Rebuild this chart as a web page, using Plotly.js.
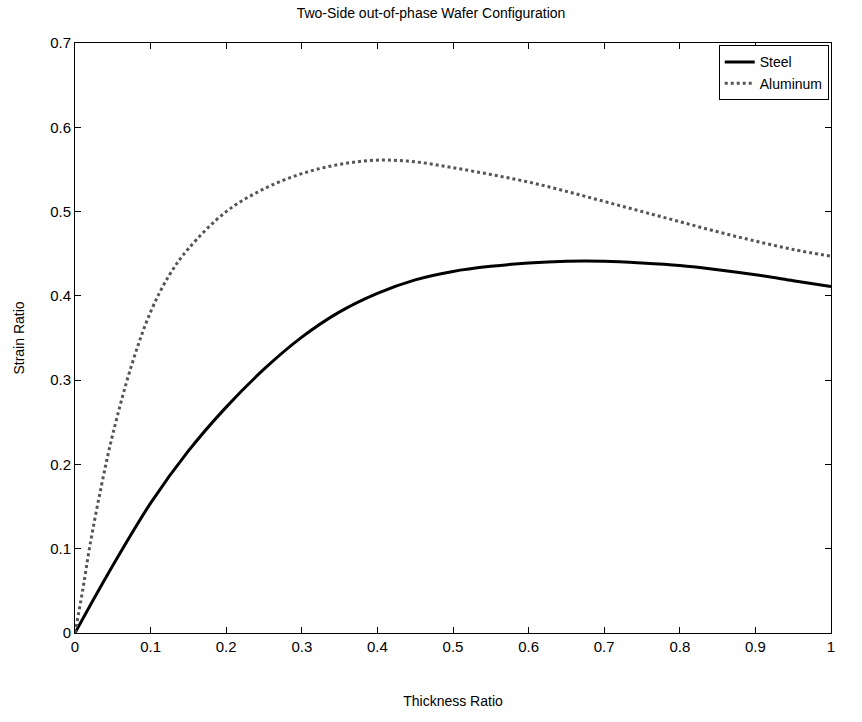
<!DOCTYPE html>
<html>
<head>
<meta charset="utf-8">
<script src="https://cdn.plot.ly/plotly-3.0.1.min.js"></script>
<style>html,body{margin:0;padding:0;background:#fff;}#chart{width:862px;height:722px;}</style>
</head>
<body>
<div id="chart"></div>
<script>
const steelX = [0, 0.05, 0.1, 0.15, 0.2, 0.25, 0.3, 0.35, 0.4, 0.45, 0.5, 0.55, 0.6, 0.65, 0.7, 0.75, 0.8, 0.85, 0.9, 0.95, 1.0];
const steelY = [0, 0.08, 0.154, 0.216, 0.268, 0.313, 0.351, 0.381, 0.403, 0.419, 0.429, 0.435, 0.439, 0.441, 0.441, 0.439, 0.436, 0.431, 0.425, 0.418, 0.411];
const aluX = [0, 0.01, 0.02, 0.035, 0.05, 0.075, 0.1, 0.125, 0.15, 0.2, 0.25, 0.3, 0.35, 0.4, 0.45, 0.5, 0.55, 0.6, 0.65, 0.7, 0.75, 0.8, 0.85, 0.9, 0.95, 1.0];
const aluY = [0, 0.05, 0.105, 0.175, 0.236, 0.318, 0.381, 0.425, 0.456, 0.500, 0.527, 0.545, 0.556, 0.561, 0.559, 0.552, 0.544, 0.535, 0.524, 0.512, 0.50, 0.488, 0.476, 0.465, 0.455, 0.447];
const xTicks = [0, 0.1, 0.2, 0.3, 0.4, 0.5, 0.6, 0.7, 0.8, 0.9, 1];
const yTicks = [0, 0.1, 0.2, 0.3, 0.4, 0.5, 0.6, 0.7];

const font = {family: 'Liberation Sans, Arial, sans-serif', size: 14, color: '#000'};
const tickFont = {family: 'Liberation Sans, Arial, sans-serif', size: 15, color: '#000'};
const axisCommon = {
  showgrid: false, zeroline: false, showline: true, linecolor: '#000', linewidth: 1,
  mirror: 'ticks', ticks: 'inside', ticklen: 6, tickcolor: '#000',
  tickfont: tickFont
};
const data = [
  {x: steelX, y: steelY, name: 'Steel', mode: 'lines',
   line: {color: '#000', width: 3, shape: 'spline'}},
  {x: aluX, y: aluY, name: 'Aluminum', mode: 'lines',
   line: {color: '#555', width: 3, dash: 'dot', shape: 'spline'}}
];
const layout = {
  width: 862, height: 722,
  paper_bgcolor: '#fff', plot_bgcolor: '#fff',
  font: font,
  margin: {l: 75, r: 31, t: 43, b: 89},
  title: {text: 'Two-Side out-of-phase Wafer Configuration', font: font, x: 0.5, xanchor: 'center', y: 0.982, yanchor: 'middle'},
  xaxis: Object.assign({}, axisCommon, {range: [0, 1], tickvals: xTicks,
    title: {text: 'Thickness Ratio', font: font, standoff: 42}}),
  yaxis: Object.assign({}, axisCommon, {range: [0, 0.7], tickvals: yTicks,
    title: {text: 'Strain Ratio', font: font, standoff: 22}}),
  showlegend: true,
  legend: {x: 0.997, y: 0.996, xanchor: 'right', yanchor: 'top', bgcolor: '#fff',
    bordercolor: '#000', borderwidth: 1, font: font, tracegroupgap: 0, itemwidth: 30}
};
Plotly.newPlot('chart', data, layout, {displayModeBar: false, staticPlot: true});
</script>
</body>
</html>
